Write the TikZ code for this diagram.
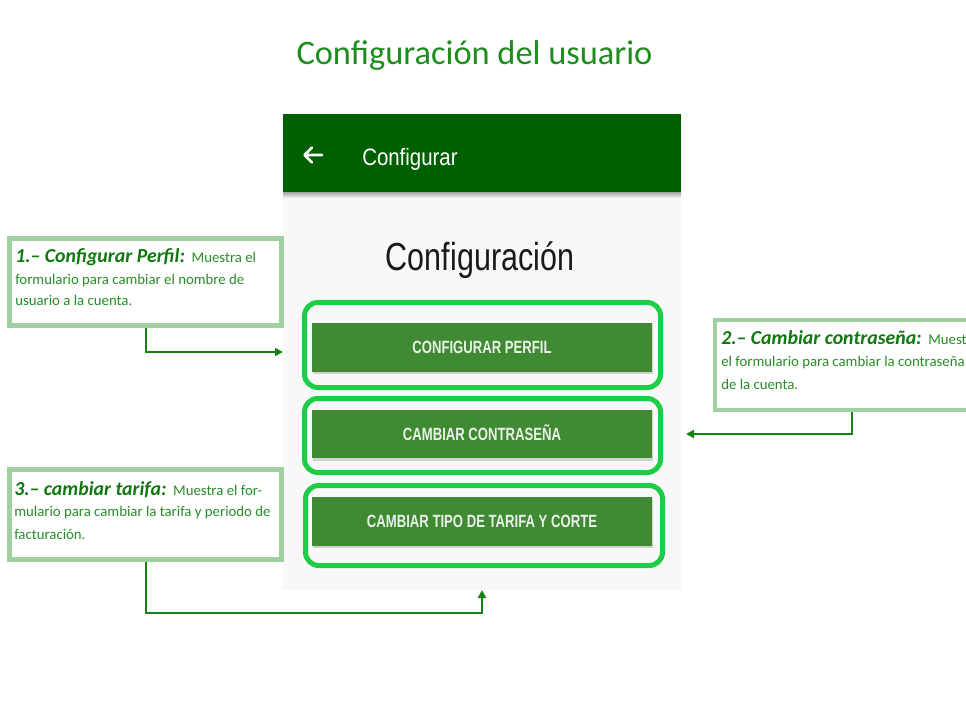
\documentclass[tikz,border=0pt]{standalone}
\usepackage{fontspec}
\setmainfont{Carlito}
\newfontfamily\scrfont[FakeStretch=0.78]{Liberation Sans}
\newfontfamily\btnfont[FakeStretch=0.74]{Liberation Sans}
\newfontfamily\barfont[FakeStretch=0.86]{Liberation Sans}
\usetikzlibrary{arrows.meta}
\definecolor{barcol}{RGB}{0,96,0}
\definecolor{scrbg}{RGB}{248,248,248}
\definecolor{btncol}{RGB}{64,138,52}
\definecolor{hlcol}{RGB}{30,205,70}
\definecolor{anncol}{RGB}{160,208,160}
\definecolor{arrcol}{RGB}{20,130,20}
\definecolor{titcol}{RGB}{30,140,30}
\definecolor{headcol}{RGB}{15,120,15}
\definecolor{bodycol}{RGB}{40,140,40}
\definecolor{btntext}{RGB}{232,240,232}
\tikzset{
  annbox/.style={draw=anncol, line width=3.4pt, fill=white, inner sep=0pt},
  hlbox/.style={draw=hlcol, line width=3.75pt, rounded corners=10pt, inner sep=0pt},
  btnbox/.style={fill=btncol, inner sep=0pt, text=btntext,
    font=\btnfont\bfseries\fontsize{13.3}{15}\selectfont, text height=9.5pt, text depth=0pt},
  conn/.style={draw=arrcol, line width=1.5pt, -{Triangle[length=6pt,width=6pt]}},
  headtxt/.style={anchor=base west, inner sep=0pt, text=headcol},
  bodytxt/.style={anchor=base west, inner sep=0pt, text=bodycol,
    font=\fontsize{11.1}{13}\selectfont},
}
\newcommand{\hd}[1]{{\fontsize{14.85}{17}\selectfont\bfseries\itshape #1}}
\newcommand{\bd}[1]{{\fontsize{11.1}{13}\selectfont\color{bodycol}#1}}
\begin{document}
\begin{tikzpicture}[x=0.75pt,y=-0.75pt]
\useasboundingbox (0,0) rectangle (966,705);
\clip (0,0) rectangle (966,705);
\fill[white] (0,0) rectangle (966,705);
% title
\node[anchor=base, inner sep=0pt, text=titcol, font=\fontsize{25.8}{30}\selectfont] (title) at (474.5,65) {Configuración del usuario};
% screen
\node[fill=scrbg, inner sep=0pt, minimum width=298.5pt, minimum height=297.75pt] (scr) at (482,391.5) {};
\node[fill=barcol, inner sep=0pt, minimum width=298.5pt, minimum height=59.25pt] (bar) at (482,153.5) {};
\shade[top color=black!30, bottom color=scrbg] (283,193) rectangle (681,198);
\draw[white, line width=2pt, line cap=round, line join=round] (305,155) -- (322,155) (312,147.5) -- (304.5,155) -- (312,162.5);
\node[anchor=base west, inner sep=0pt, text=white, font=\barfont\fontsize{17.8}{20}\selectfont] (bartitle) at (362,166) {Configurar};
\node[anchor=base, inner sep=0pt, text=black!90, font=\scrfont\fontsize{29.3}{34}\selectfont] (heading) at (480,271) {Configuración};
% button shadows
\foreach \yy in {347.5,434,521.5} {
  \fill[black!18] (313,\yy-23.5) rectangle (653,\yy+26.5);
}
% buttons
\node[btnbox, minimum width=255pt, minimum height=36.75pt] (btn1) at (482,347.5) {CONFIGURAR PERFIL};
\node[btnbox, minimum width=255pt, minimum height=36pt] (btn2) at (482,434) {CAMBIAR CONTRASEÑA};
\node[btnbox, minimum width=255pt, minimum height=36.75pt] (btn3) at (482,521.5) {CAMBIAR TIPO DE TARIFA Y CORTE};
% highlight boxes
\node[hlbox, minimum width=267pt, minimum height=63.75pt] (hl1) at (482.5,345) {};
\node[hlbox, minimum width=267pt, minimum height=55.5pt] (hl2) at (482.5,435.5) {};
\node[hlbox, minimum width=267.75pt, minimum height=60pt] (hl3) at (484,525.5) {};
% annotation boxes
\node[annbox, minimum width=204pt, minimum height=65.25pt] (b1) at (145.5,282) {};
\node[annbox, minimum width=205.5pt, minimum height=67.5pt] (b2) at (852,365) {};
\node[annbox, minimum width=204pt, minimum height=67.5pt] (b3) at (145.5,514.5) {};
% annotation texts
\node[headtxt] (b1l1) at (15,263) {\hd{1.– Configurar Perfil:}\hspace{5pt}\bd{Muestra el}};
\node[bodytxt] (b1l2) at (15,285) {formulario para cambiar el nombre de};
\node[bodytxt] (b1l3) at (15,306) {usuario a la cuenta.};
\node[headtxt] (b2l1) at (721,345) {\hd{2.– Cambiar contraseña:}\hspace{5pt}\bd{Muestra}};
\node[bodytxt] (b2l2) at (721,367) {el formulario para cambiar la contraseña};
\node[bodytxt] (b2l3) at (721,389) {de la cuenta.};
\node[headtxt] (b3l1) at (14,495) {\hd{3.– cambiar tarifa:}\hspace{5pt}\bd{Muestra el for-}};
\node[bodytxt] (b3l2) at (14,516) {mulario para cambiar la tarifa y periodo de};
\node[bodytxt] (b3l3) at (14,539) {facturación.};
% connectors
\coordinate (t1) at (283,352);
\coordinate (t2) at (686,434);
\coordinate (t3) at (482,590);
\draw[conn] (b1.south) |- (t1);
\draw[conn] (b2.south) |- (t2);
\draw[conn] (b3.south) -- ++(0,51) -| (t3);
\end{tikzpicture}
\end{document}
